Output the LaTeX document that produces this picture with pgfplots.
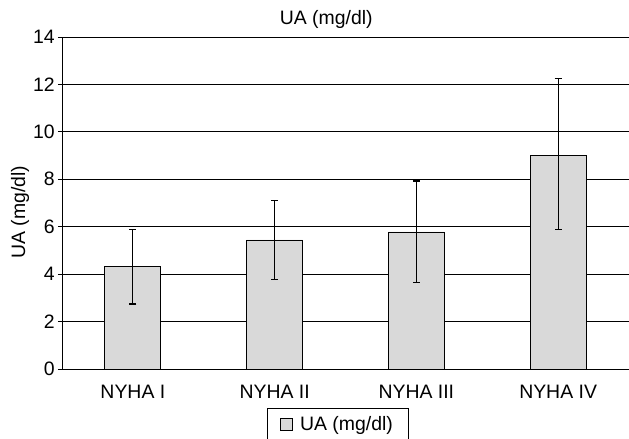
\documentclass[border=0pt]{standalone}
\usepackage{pgfplots}
\pgfplotsset{compat=1.18}
\usepackage{fontspec}
\setmainfont{Liberation Sans}
\newcommand{\ff}{\fontsize{19.5}{23}\selectfont}
\begin{document}
\begin{tikzpicture}
\begin{axis}[
  at={(62bp,70bp)}, anchor=south west,
  scale only axis,
  width=567bp, height=332bp,
  xmin=-0.5, xmax=3.5,
  ymin=0, ymax=14,
  ytick={0,2,...,14},
  xtick={0,1,2,3},
  xticklabels={NYHA I,NYHA II,NYHA III,NYHA IV},
  extra x ticks={-0.5,0.5,1.5,2.5},
  extra x tick labels={},
  extra x tick style={major tick length=5bp, tick align=outside, grid=none},
  x tick style={draw=none},
  y tick style={black, line width=0.8pt},
  major tick length=4bp,
  tick align=outside,
  axis x line*=bottom,
  axis y line*=left,
  axis line style={black, line width=0.8pt},
  ymajorgrids,
  grid style={black, line width=0.8pt},
  /pgf/number format/assume math mode=true,
  tick label style={font=\ff},
  xticklabel style={anchor=base, inner sep=0pt, yshift=-25bp},
  yticklabel style={anchor=east, inner sep=0pt, xshift=-3bp},
  title={UA (mg/dl)},
  title style={font=\ff, at={(axis description cs:0.466,1)}, anchor=base, inner sep=0pt, yshift=7bp},
  ylabel={UA (mg/dl)},
  ylabel style={font=\ff, at={(axis description cs:-0.074,0.473)}, anchor=center, rotate=0},
  legend style={font=\ff, at={(axis description cs:0.3616,-0.1175)}, anchor=north west, draw=black, line width=0.8pt, inner xsep=13bp, inner ysep=6bp},
  legend image code/.code={\draw[fill=gray!30, draw=black, line width=0.6pt] (0bp,-6bp) rectangle (12bp,6bp); \path (17bp,0bp);},
]
\addplot[ybar, bar width=56bp, fill=gray!30, draw=black, line width=0.8pt,
  error bars/.cd, y dir=both, y explicit,
  error bar style={black, line width=1pt},
  error mark options={rotate=90, mark size=3.5bp, line width=1.3pt}]
  coordinates {
    (0,4.32) += (0,1.56) -= (0,1.58)
    (1,5.44) += (0,1.68) -= (0,1.68)
    (2,5.78) += (0,2.15) -= (0,2.14)
    (3,9.00) += (0,3.24) -= (0,3.11)
  };
\addlegendentry{UA (mg/dl)}
\end{axis}
\pgfresetboundingbox
\path (0,0) rectangle (629bp,439bp);
\end{tikzpicture}
\end{document}
